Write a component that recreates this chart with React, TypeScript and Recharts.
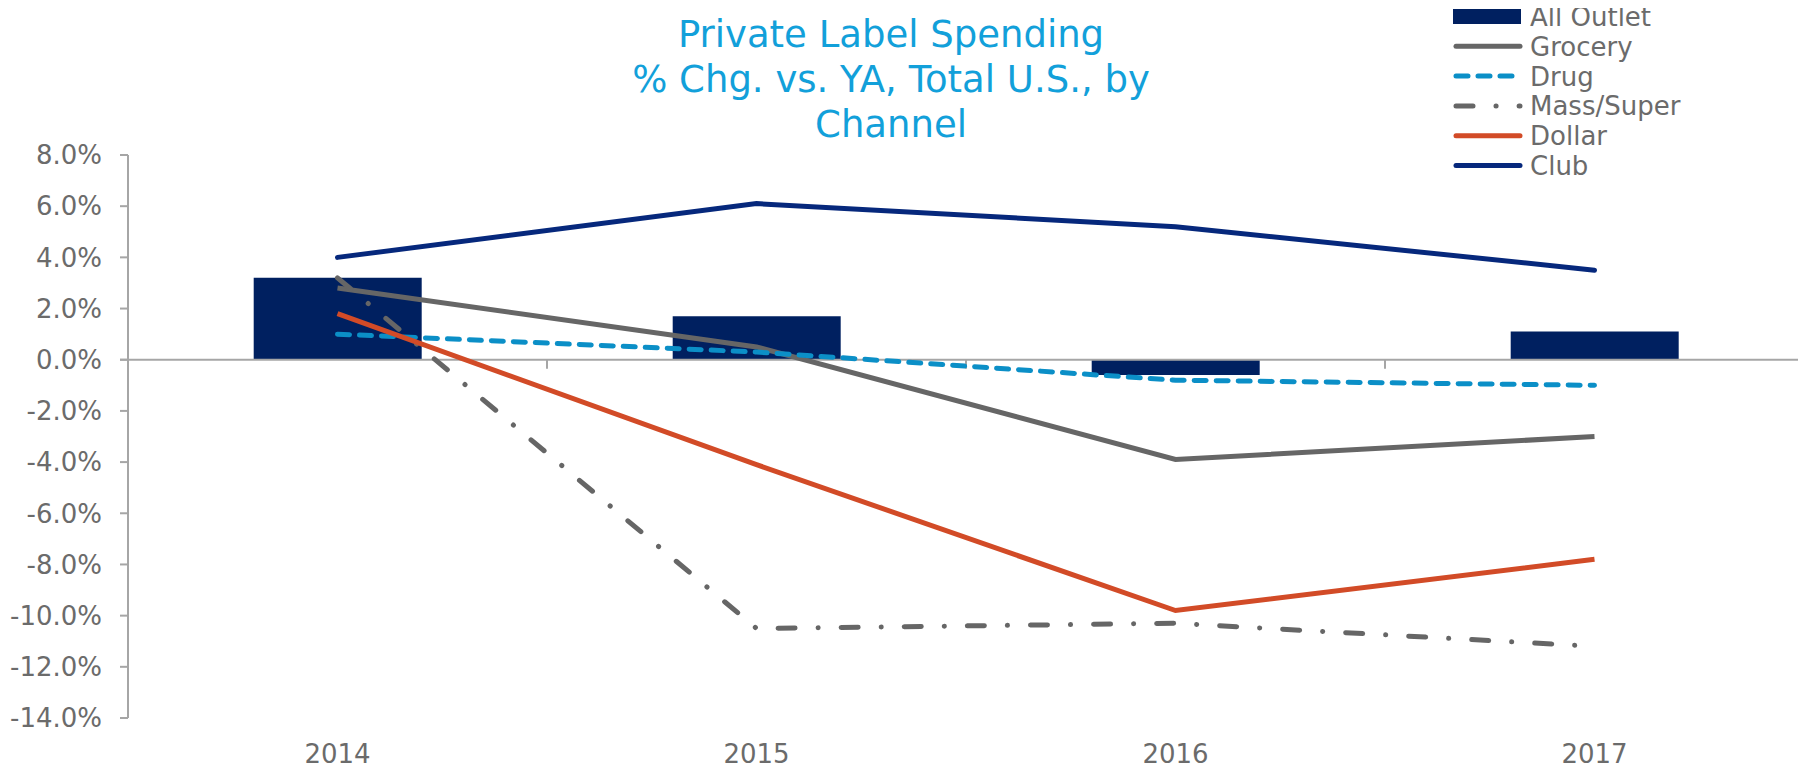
import React from 'react';
import { ComposedChart, Bar, Line, XAxis, YAxis, ReferenceLine } from 'recharts';

// Private label spending, % change vs. year ago, by channel
const years = ['2014', '2015', '2016', '2017'];
const allOutlet = [3.2, 1.7, -0.6, 1.1];
const grocery = [2.8, 0.5, -3.9, -3.0];
const drug = [1.0, 0.3, -0.8, -1.0];
const massSuper = [3.2, -10.5, -10.3, -11.2];
const dollar = [1.8, -4.1, -9.8, -7.8];
const club = [4.0, 6.1, 5.2, 3.5];
const yTicks = [8, 6, 4, 2, 0, -2, -4, -6, -8, -10, -12, -14];

const titleLines = ['Private Label Spending', '% Chg. vs. YA, Total U.S., by', 'Channel'];

const FONT = '"DejaVu Sans", Verdana, sans-serif';
const AXIS_GREY = '#a6a6a6';
const TEXT_GREY = '#6b6b6b';

const COLORS = {
  allOutlet: '#002060',
  grocery: '#666666',
  drug: '#0b8fc7',
  massSuper: '#666666',
  dollar: '#d24b27',
  club: '#06287c',
};

const DRUG_DASH = '12 10';
const MASS_DASH = '17 23 0.1 23';

const data = years.map((year, i) => ({
  year,
  allOutlet: allOutlet[i],
  grocery: grocery[i],
  drug: drug[i],
  massSuper: massSuper[i],
  dollar: dollar[i],
  club: club[i],
}));

type LegendItem = { name: string; kind: 'bar' | 'line'; color: string; dash?: string };
const legendItems: LegendItem[] = [
  { name: 'All Outlet', kind: 'bar', color: COLORS.allOutlet },
  { name: 'Grocery', kind: 'line', color: COLORS.grocery },
  { name: 'Drug', kind: 'line', color: COLORS.drug, dash: DRUG_DASH },
  { name: 'Mass/Super', kind: 'line', color: COLORS.massSuper, dash: MASS_DASH },
  { name: 'Dollar', kind: 'line', color: COLORS.dollar },
  { name: 'Club', kind: 'line', color: COLORS.club },
];

const W = 1798;
const H = 760;
// the overlay reaches up into the page margin so the first legend row is not clipped
const OVERLAY_SHIFT = 8;

// zero baseline with small category-boundary ticks hanging below it
const ZeroLine = (props: any) => {
  const { x1, y1, x2 } = props;
  const n = years.length;
  const step = (x2 - x1) / n;
  const marks = [];
  for (let i = 0; i <= n; i++) {
    const x = x1 + step * i;
    marks.push(<line key={i} x1={x} y1={y1} x2={x} y2={y1 + 9} stroke={AXIS_GREY} strokeWidth={2} />);
  }
  return (
    <g>
      <line x1={x1 - 8} y1={y1} x2={x2 + 1} y2={y1} stroke={AXIS_GREY} strokeWidth={2} />
      {marks}
    </g>
  );
};

const YearTick = (props: any) => {
  const { x, y, payload } = props;
  return (
    <text x={x} y={y + 45} textAnchor="middle" fontSize={26} fill={TEXT_GREY} fontFamily={FONT}>
      {payload.value}
    </text>
  );
};

const Overlay = () => {
  const legendX = 1445;
  const legendY0 = 8.5 + OVERLAY_SHIFT;
  const rowH = 29.8;
  return (
    <svg
      width={W}
      height={H + OVERLAY_SHIFT}
      style={{ position: 'absolute', left: 0, top: -OVERLAY_SHIFT, pointerEvents: 'none', overflow: 'visible' }}
    >
      {titleLines.map((t, i) => (
        <text
          key={t}
          x={883}
          y={39 + OVERLAY_SHIFT + i * 45}
          textAnchor="middle"
          fontSize={37}
          fill="#12a0da"
          fontFamily={FONT}
        >
          {t}
        </text>
      ))}
      {legendItems.map((it, i) => {
        const cy = legendY0 + i * rowH;
        return (
          <g key={it.name}>
            {it.kind === 'bar' ? (
              <rect x={legendX} y={cy - 7.5} width={68} height={15} fill={it.color} />
            ) : (
              <line
                x1={legendX + 3}
                y1={cy}
                x2={legendX + 67}
                y2={cy}
                stroke={it.color}
                strokeWidth={5}
                strokeLinecap="round"
                strokeDasharray={it.dash}
              />
            )}
            <text x={legendX + 77} y={cy + 9.5} fontSize={26} fill={TEXT_GREY} fontFamily={FONT}>
              {it.name}
            </text>
          </g>
        );
      })}
    </svg>
  );
};

export default function App() {
  return (
    <div style={{ position: 'relative', width: W, height: H }}>
      <ComposedChart
        width={W}
        height={H}
        data={data}
        margin={{ top: 147, right: 2, bottom: 0, left: 0 }}
        barCategoryGap="30%"
      >
        <XAxis
          dataKey="year"
          axisLine={false}
          tickLine={false}
          tickSize={0}
          tickMargin={0}
          height={50}
          interval={0}
          tick={<YearTick />}
        />
        <YAxis
          width={120}
          domain={[-14, 8]}
          ticks={yTicks}
          interval={0}
          allowDataOverflow
          tickFormatter={(v: number) => `${v.toFixed(1)}%`}
          tick={{ fontSize: 26, fill: TEXT_GREY, fontFamily: FONT }}
          tickSize={8}
          tickMargin={18}
          axisLine={{ stroke: AXIS_GREY, strokeWidth: 2 }}
          tickLine={{ stroke: AXIS_GREY, strokeWidth: 2 }}
        />
        <Bar dataKey="allOutlet" name="All Outlet" fill={COLORS.allOutlet} isAnimationActive={false} />
        <ReferenceLine y={0} shape={<ZeroLine />} />
        <Line
          dataKey="grocery"
          name="Grocery"
          stroke={COLORS.grocery}
          strokeWidth={5}
          dot={false}
          activeDot={false}
          isAnimationActive={false}
        />
        <Line
          dataKey="drug"
          name="Drug"
          stroke={COLORS.drug}
          strokeWidth={5}
          strokeDasharray={DRUG_DASH}
          strokeLinecap="round"
          dot={false}
          activeDot={false}
          isAnimationActive={false}
        />
        <Line
          dataKey="massSuper"
          name="Mass/Super"
          stroke={COLORS.massSuper}
          strokeWidth={5}
          strokeDasharray={MASS_DASH}
          strokeLinecap="round"
          dot={false}
          activeDot={false}
          isAnimationActive={false}
        />
        <Line
          dataKey="dollar"
          name="Dollar"
          stroke={COLORS.dollar}
          strokeWidth={5}
          dot={false}
          activeDot={false}
          isAnimationActive={false}
        />
        <Line
          dataKey="club"
          name="Club"
          stroke={COLORS.club}
          strokeWidth={5}
          strokeLinecap="round"
          dot={false}
          activeDot={false}
          isAnimationActive={false}
        />
      </ComposedChart>
      <Overlay />
    </div>
  );
}
